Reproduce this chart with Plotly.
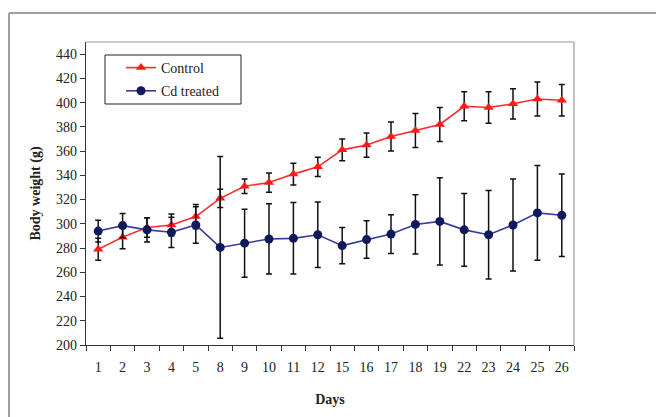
import plotly.graph_objects as go

days = ["1", "2", "3", "4", "5", "8", "9", "10", "11", "12",
        "15", "16", "17", "18", "19", "22", "23", "24", "25", "26"]

control = [279, 289, 297, 299, 306, 321, 331, 334, 341, 347,
           361, 365, 372, 377, 382, 397, 396, 399, 403, 402]
control_err = [9, 9.5, 8, 9, 10, 7.5, 6, 8, 9, 8,
               9, 10, 12, 14, 14, 12, 13, 12.5, 14, 13]

cd = [294, 298.5, 295, 293, 299, 280.5, 284, 287.5, 288, 291,
      282, 287, 291.5, 299.5, 302, 295, 291, 299, 309, 307]
cd_err = [9, 10, 10, 12.5, 15, 75, 28, 29, 29.5, 27,
          15, 15.5, 16, 24.5, 36, 30, 36.5, 38, 39, 34]

y_ticks = [200, 220, 240, 260, 280, 300, 320, 340, 360, 380, 400, 420, 440]

FONT = "Liberation Serif"

fig = go.Figure()

fig.add_trace(go.Scatter(
    x=days, y=control, name="Control", mode="lines+markers", legendgroup="a",
    line=dict(color="#FF2A2A", width=1.6),
    marker=dict(symbol="triangle-up", size=9, color="#FF1A1A"),
    error_y=dict(type="data", array=control_err, visible=True,
                 color="#111111", thickness=1.5, width=3),
))

fig.add_trace(go.Scatter(
    x=days, y=cd, name="Cd treated", mode="lines+markers", legendgroup="b",
    line=dict(color="#3A3A9A", width=1.6),
    marker=dict(symbol="circle", size=9, color="#0F1A5C"),
    error_y=dict(type="data", array=cd_err, visible=True,
                 color="#111111", thickness=1.5, width=3),
))

# page body has an 8px margin; figure starts at (8, 8)
OFF = 8
W, H = 664 - OFF, 417 - OFF
L, R, T, B = 86 - OFF, 90, 42 - OFF, 72
pw, ph = W - L - R, H - T - B

def px_x(p):
    return (p - OFF - L) / pw

def px_y(p):
    return (H - B - (p - OFF)) / ph

fig.update_layout(
    width=W, height=H,
    margin=dict(l=L, r=R, t=T, b=B, pad=0),
    paper_bgcolor="white", plot_bgcolor="white",
    font=dict(family=FONT, size=13, color="#222222"),
    showlegend=True,
    legend=dict(
        x=px_x(121), y=px_y(52), xanchor="left", yanchor="top",
        borderwidth=0, bgcolor="rgba(0,0,0,0)",
        font=dict(family=FONT, size=14, color="#222222"),
        tracegroupgap=2,
        itemwidth=30,
    ),
    xaxis=dict(
        type="category", categoryorder="array", categoryarray=days,
        tickmode="array", tickvals=days, ticktext=days,
        tickson="boundaries", ticks="outside", ticklen=5, tickcolor="#333333",
        showline=True, linecolor="#333333", linewidth=1.2,
        showgrid=False, zeroline=False,
        ticklabelstandoff=9,
        tickfont=dict(size=14),
        title=dict(text="<b>Days</b>", font=dict(family=FONT, size=14, color="#222222"), standoff=20),
        range=[-0.5, len(days) - 0.5],
    ),
    yaxis=dict(
        range=[200, 450], tickmode="array", tickvals=y_ticks,
        ticks="outside", ticklen=5, tickcolor="#333333",
        showline=True, linecolor="#333333", linewidth=1.2,
        showgrid=False, zeroline=False,
        tickfont=dict(size=14),
        title=dict(text="<b>Body weight (g)</b>", font=dict(family=FONT, size=14, color="#222222"), standoff=12),
    ),
    shapes=[
        dict(type="line", xref="paper", yref="paper", x0=0, x1=1, y0=1, y1=1,
             line=dict(color="#9A9A9A", width=1.2)),
        dict(type="line", xref="paper", yref="paper", x0=1, x1=1, y0=0, y1=1,
             line=dict(color="#9A9A9A", width=1.2)),
        # legend box
        dict(type="rect", xref="paper", yref="paper", x0=px_x(105), x1=px_x(241),
             y0=px_y(104), y1=px_y(55), line=dict(color="#222222", width=1),
             fillcolor="rgba(0,0,0,0)", layer="below"),
        # outer frame
        dict(type="line", xref="paper", yref="paper", x0=px_x(9), x1=px_x(700),
             y0=px_y(13), y1=px_y(13), line=dict(color="#A0A0A0", width=2)),
        dict(type="line", xref="paper", yref="paper", x0=px_x(9), x1=px_x(9),
             y0=px_y(13), y1=px_y(440), line=dict(color="#A0A0A0", width=2)),
    ],
)

fig.write_html("out.html")
